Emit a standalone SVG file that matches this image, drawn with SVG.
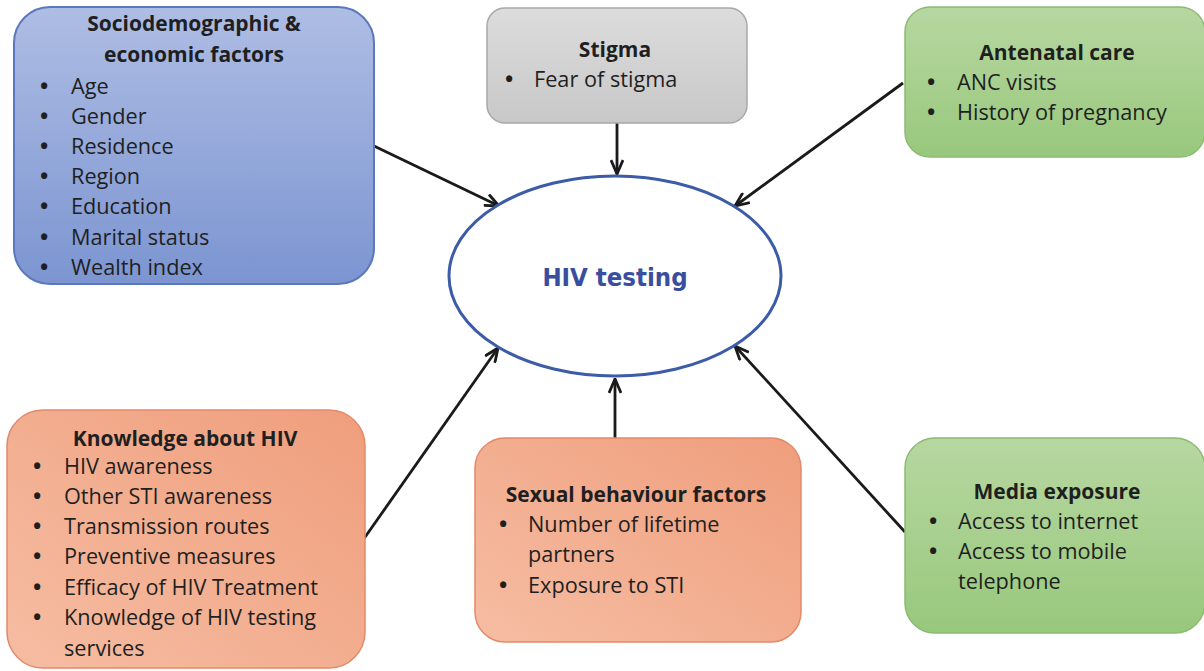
<svg xmlns="http://www.w3.org/2000/svg" width="1204" height="671" viewBox="0 0 1204 671">
<style>
.t{font-family:"Open Sans","Liberation Sans",sans-serif;font-size:21.7px;fill:#1f1f1f}
.h{font-weight:bold;text-anchor:middle;font-size:21px}
.b{font-family:"Open Sans","Liberation Sans",sans-serif;font-size:22px;font-weight:bold;fill:#1f1f1f}
.c{stroke:#1a1a1a;stroke-width:2.8;fill:none;marker-end:url(#ah)}
</style>
<defs>
<marker id="ah" viewBox="0 0 16 14" refX="15" refY="7" markerWidth="16" markerHeight="14" markerUnits="userSpaceOnUse" orient="auto">
<path d="M1,1 L15,7 L1,13" fill="none" stroke="#1a1a1a" stroke-width="2.8" stroke-linejoin="miter"/>
</marker>
<linearGradient id="gb" x1="0" y1="0" x2="0" y2="1"><stop offset="0" stop-color="#aebde4"/><stop offset="1" stop-color="#7c95d1"/></linearGradient>
<linearGradient id="gg" x1="0" y1="0" x2="0" y2="1"><stop offset="0" stop-color="#dcdcdc"/><stop offset="1" stop-color="#c8c8c8"/></linearGradient>
<linearGradient id="gn" x1="0" y1="0" x2="0" y2="1"><stop offset="0" stop-color="#b7d7a1"/><stop offset="1" stop-color="#98c87c"/></linearGradient>
<linearGradient id="go" x1="1" y1="0" x2="0" y2="1"><stop offset="0" stop-color="#ef9e7c"/><stop offset="1" stop-color="#f6bda3"/></linearGradient>
</defs>
<rect width="1204" height="671" fill="#ffffff"/>
<g id="connectors">
<line class="c" x1="374" y1="146" x2="499" y2="206"/>
<line class="c" x1="617" y1="123" x2="617" y2="174"/>
<line class="c" x1="903" y1="83" x2="735" y2="206"/>
<line class="c" x1="363" y1="540" x2="498" y2="348"/>
<line class="c" x1="615" y1="440" x2="615" y2="379"/>
<line class="c" x1="905" y1="532" x2="735" y2="346"/>
</g>
<g id="hiv">
<ellipse cx="615" cy="276" rx="166" ry="100" fill="#ffffff" stroke="#3d5ca8" stroke-width="3"/>
<text x="615" y="286" text-anchor="middle" font-family="'DejaVu Sans Condensed','DejaVu Sans',sans-serif" font-stretch="condensed" font-weight="bold" font-size="25.5" fill="#3a4ea0">HIV testing</text>
</g>
<g id="socio">
<rect x="14" y="7" width="360" height="277" rx="36" fill="url(#gb)" stroke="#5a78bb" stroke-width="2"/>
<text class="t h" x="194" y="31">Sociodemographic &amp;</text>
<text class="t h" x="194" y="62">economic factors</text>
<g class="t">
<text class="b" x="40" y="94">•</text><text x="71" y="94">Age</text>
<text class="b" x="40" y="124">•</text><text x="71" y="124">Gender</text>
<text class="b" x="40" y="154">•</text><text x="71" y="154">Residence</text>
<text class="b" x="40" y="184">•</text><text x="71" y="184">Region</text>
<text class="b" x="40" y="214">•</text><text x="71" y="214">Education</text>
<text class="b" x="40" y="245">•</text><text x="71" y="245">Marital status</text>
<text class="b" x="40" y="275">•</text><text x="71" y="275">Wealth index</text>
</g>
</g>
<g id="stigma">
<rect x="487" y="8" width="260" height="115" rx="18" fill="url(#gg)" stroke="#a8a8a8" stroke-width="1.5"/>
<text class="t h" x="615" y="57">Stigma</text>
<text class="b" x="505" y="87">•</text><text class="t" x="534" y="87">Fear of stigma</text>
</g>
<g id="anc">
<rect x="905" y="7" width="300" height="150" rx="25" fill="url(#gn)" stroke="#8cba73" stroke-width="1.5"/>
<text class="t h" x="1057" y="60">Antenatal care</text>
<text class="b" x="927" y="90">•</text><text class="t" x="957" y="90">ANC visits</text>
<text class="b" x="927" y="120">•</text><text class="t" x="957" y="120">History of pregnancy</text>
</g>
<g id="knowledge">
<rect x="7" y="410" width="358" height="258" rx="36" fill="url(#go)" stroke="#e3896a" stroke-width="1.5"/>
<text class="t h" x="185" y="446">Knowledge about HIV</text>
<g class="t">
<text class="b" x="33" y="474">•</text><text x="64" y="474">HIV awareness</text>
<text class="b" x="33" y="504">•</text><text x="64" y="504">Other STI awareness</text>
<text class="b" x="33" y="534">•</text><text x="64" y="534">Transmission routes</text>
<text class="b" x="33" y="564">•</text><text x="64" y="564">Preventive measures</text>
<text class="b" x="33" y="595">•</text><text x="64" y="595">Efficacy of HIV Treatment</text>
<text class="b" x="33" y="625">•</text><text x="64" y="625">Knowledge of HIV testing</text>
<text x="64" y="656">services</text>
</g>
</g>
<g id="sexual">
<rect x="475" y="438" width="326" height="204" rx="30" fill="url(#go)" stroke="#e3896a" stroke-width="1.5"/>
<text class="t h" x="636" y="502">Sexual behaviour factors</text>
<g class="t">
<text class="b" x="499" y="532">•</text><text x="528" y="532">Number of lifetime</text>
<text x="528" y="562">partners</text>
<text class="b" x="499" y="593">•</text><text x="528" y="593">Exposure to STI</text>
</g>
</g>
<g id="media">
<rect x="905" y="438" width="300" height="195" rx="30" fill="url(#gn)" stroke="#8cba73" stroke-width="1.5"/>
<text class="t h" x="1057" y="499">Media exposure</text>
<g class="t">
<text class="b" x="929" y="529">•</text><text x="958" y="529">Access to internet</text>
<text class="b" x="929" y="559">•</text><text x="958" y="559">Access to mobile</text>
<text x="958" y="589">telephone</text>
</g>
</g>
</svg>
